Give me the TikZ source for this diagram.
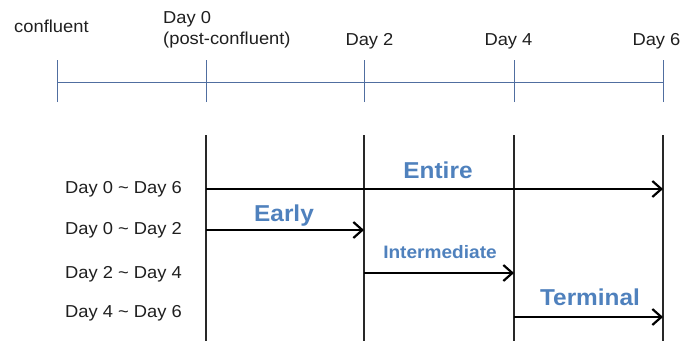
\documentclass[tikz,border=0pt]{standalone}
\usepackage{fontspec}
\setmainfont{Liberation Sans}[FakeStretch=1.06]
\usetikzlibrary{arrows.meta}
\definecolor{lblblue}{RGB}{79,129,189}
\definecolor{tlblue}{RGB}{80,110,160}
\definecolor{vgray}{RGB}{40,40,40}
\begin{document}
\begin{tikzpicture}[x=1pt,y=-1pt,
  txt/.style={inner sep=0pt,font=\fontsize{17.3}{20}\selectfont,text=black!88},
  big/.style={inner sep=0pt,font=\fontsize{23}{26}\selectfont\bfseries,text=lblblue},
  mid/.style={inner sep=0pt,font=\fontsize{18}{21}\selectfont\bfseries,text=lblblue},
  tline/.style={draw=tlblue,line width=1pt},
  vline/.style={draw=vgray,line width=1.3pt},
  period/.style={draw=black,line width=2.3pt,-{Straight Barb[length=9pt,width=16pt,line width=2.2pt]}}
]
\useasboundingbox (0,0) rectangle (684,341);
% top labels
\node[txt,anchor=base west] (conf) at (14,32) {confluent};
\node[txt,anchor=base west] (d0) at (163,23) {Day 0};
\node[txt,anchor=base west] (post) at (163,44) {(post-confluent)};
\node[txt,anchor=base] (d2) at (369.5,45) {Day 2};
\node[txt,anchor=base] (d4) at (508.5,45) {Day 4};
\node[txt,anchor=base] (d6) at (656.5,45) {Day 6};
% timeline
\coordinate (tl0) at (57,82);
\coordinate (tl1) at (206,82);
\coordinate (tl2) at (364,82);
\coordinate (tl3) at (514,82);
\coordinate (tl4) at (663,82);
\draw[tline] (tl0) -- (tl4);
\foreach \i in {0,...,4}{
  \draw[tline] ([yshift=-20pt]tl\i) -- ([yshift=22pt]tl\i);
}
% vertical lines
\coordinate (v0t) at (206,135); \coordinate (v0b) at (206,341);
\coordinate (v1t) at (364,135); \coordinate (v1b) at (364,341);
\coordinate (v2t) at (514,135); \coordinate (v2b) at (514,341);
\coordinate (v3t) at (663,135); \coordinate (v3b) at (663,341);
\draw[vline] (v0t) -- (v0b);
\draw[vline] (v1t) -- (v1b);
\draw[vline] (v2t) -- (v2b);
\draw[vline] (v3t) -- (v3b);
% row labels
\node[txt,anchor=base east] (r1) at (182,193) {Day 0 \textasciitilde{} Day 6};
\node[txt,anchor=base east] (r2) at (182,234) {Day 0 \textasciitilde{} Day 2};
\node[txt,anchor=base east] (r3) at (182,278) {Day 2 \textasciitilde{} Day 4};
\node[txt,anchor=base east] (r4) at (182,317) {Day 4 \textasciitilde{} Day 6};
% arrows
\coordinate (a1s) at (206,189); \coordinate (a1e) at (663,189);
\coordinate (a2s) at (206,230); \coordinate (a2e) at (364,230);
\coordinate (a3s) at (364,273); \coordinate (a3e) at (514,273);
\coordinate (a4s) at (514,317); \coordinate (a4e) at (663,317);
\draw[period] (a1s) -- (a1e);
\draw[period] (a2s) -- (a2e);
\draw[period] (a3s) -- (a3e);
\draw[period] (a4s) -- (a4e);
% phase labels
\node[big,anchor=base] (entire) at (438,178) {Entire};
\node[big,anchor=base] (early) at (284,221) {Early};
\node[mid,anchor=base] (inter) at (440,258) {Intermediate};
\node[big,anchor=base] (term) at (590,305) {Terminal};
\end{tikzpicture}
\end{document}
